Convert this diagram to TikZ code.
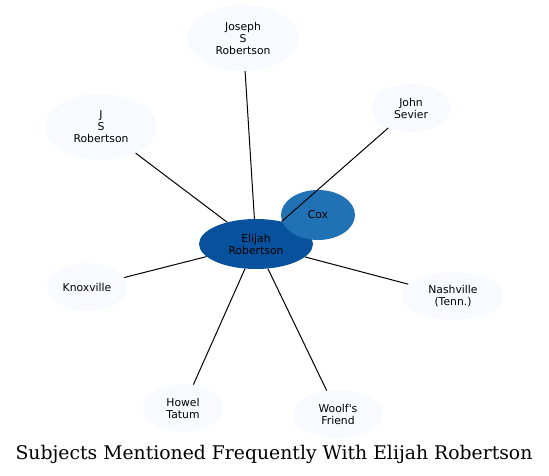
\documentclass[tikz,border=0pt]{standalone}
\usepackage{fontspec}
\usetikzlibrary{shapes.geometric}
\newfontfamily\nodefont{DejaVu Sans}
\newfontfamily\titlefont{DejaVu Serif}
\definecolor{paleblue}{HTML}{F7FBFF}
\definecolor{midblue}{HTML}{2171B5}
\definecolor{deepblue}{HTML}{08519C}
\begin{document}
\begin{tikzpicture}[x=1pt,y=-1pt,
        subject/.style={ellipse,fill=paleblue,inner sep=0pt,align=center,
            font=\nodefont\fontsize{10.8}{12}\selectfont},
        link/.style={black,line width=1pt}]
        \useasboundingbox (0,0) rectangle (549,476);
        %NODES
        \node[subject,fill=deepblue,minimum width=114pt,minimum height=50pt] (elijah) at (256,244) {Elijah\\Robertson};
        \node[subject,fill=midblue,minimum width=74pt,minimum height=50pt] (cox) at (318,215) {Cox};
        \node[subject,minimum width=112pt,minimum height=66pt] (joseph) at (243,38) {Joseph\\S\\Robertson};
        \node[subject,minimum width=112pt,minimum height=66pt] (jsr) at (101,127) {J\\S\\Robertson};
        \node[subject,minimum width=80pt,minimum height=48pt] (sevier) at (411,108) {John\\Sevier};
        \node[subject,minimum width=80pt,minimum height=48pt] (knox) at (87,287) {Knoxville};
        \node[subject,minimum width=102pt,minimum height=48pt] (nash) at (453,296) {Nashville\\(Tenn.)};
        \node[subject,minimum width=80pt,minimum height=48pt] (tatum) at (183,408) {Howel\\Tatum};
        \node[subject,minimum width=90pt,minimum height=48pt] (woolf) at (338,414) {Woolf's\\Friend};

        %EDGES
        \draw[link] (joseph) -- (elijah);
        \draw[link] (jsr) -- (elijah);
        \draw[link] (sevier) -- (elijah);
        \draw[link] (knox) -- (elijah);
        \draw[link] (nash) -- (elijah);
        \draw[link] (tatum) -- (elijah);
        \draw[link] (woolf) -- (elijah);

        %TITLE
        \node[font=\titlefont\fontsize{18.8}{20}\selectfont] (title) at (274,454) {Subjects Mentioned Frequently With Elijah Robertson};
    \end{tikzpicture}
\end{document}
